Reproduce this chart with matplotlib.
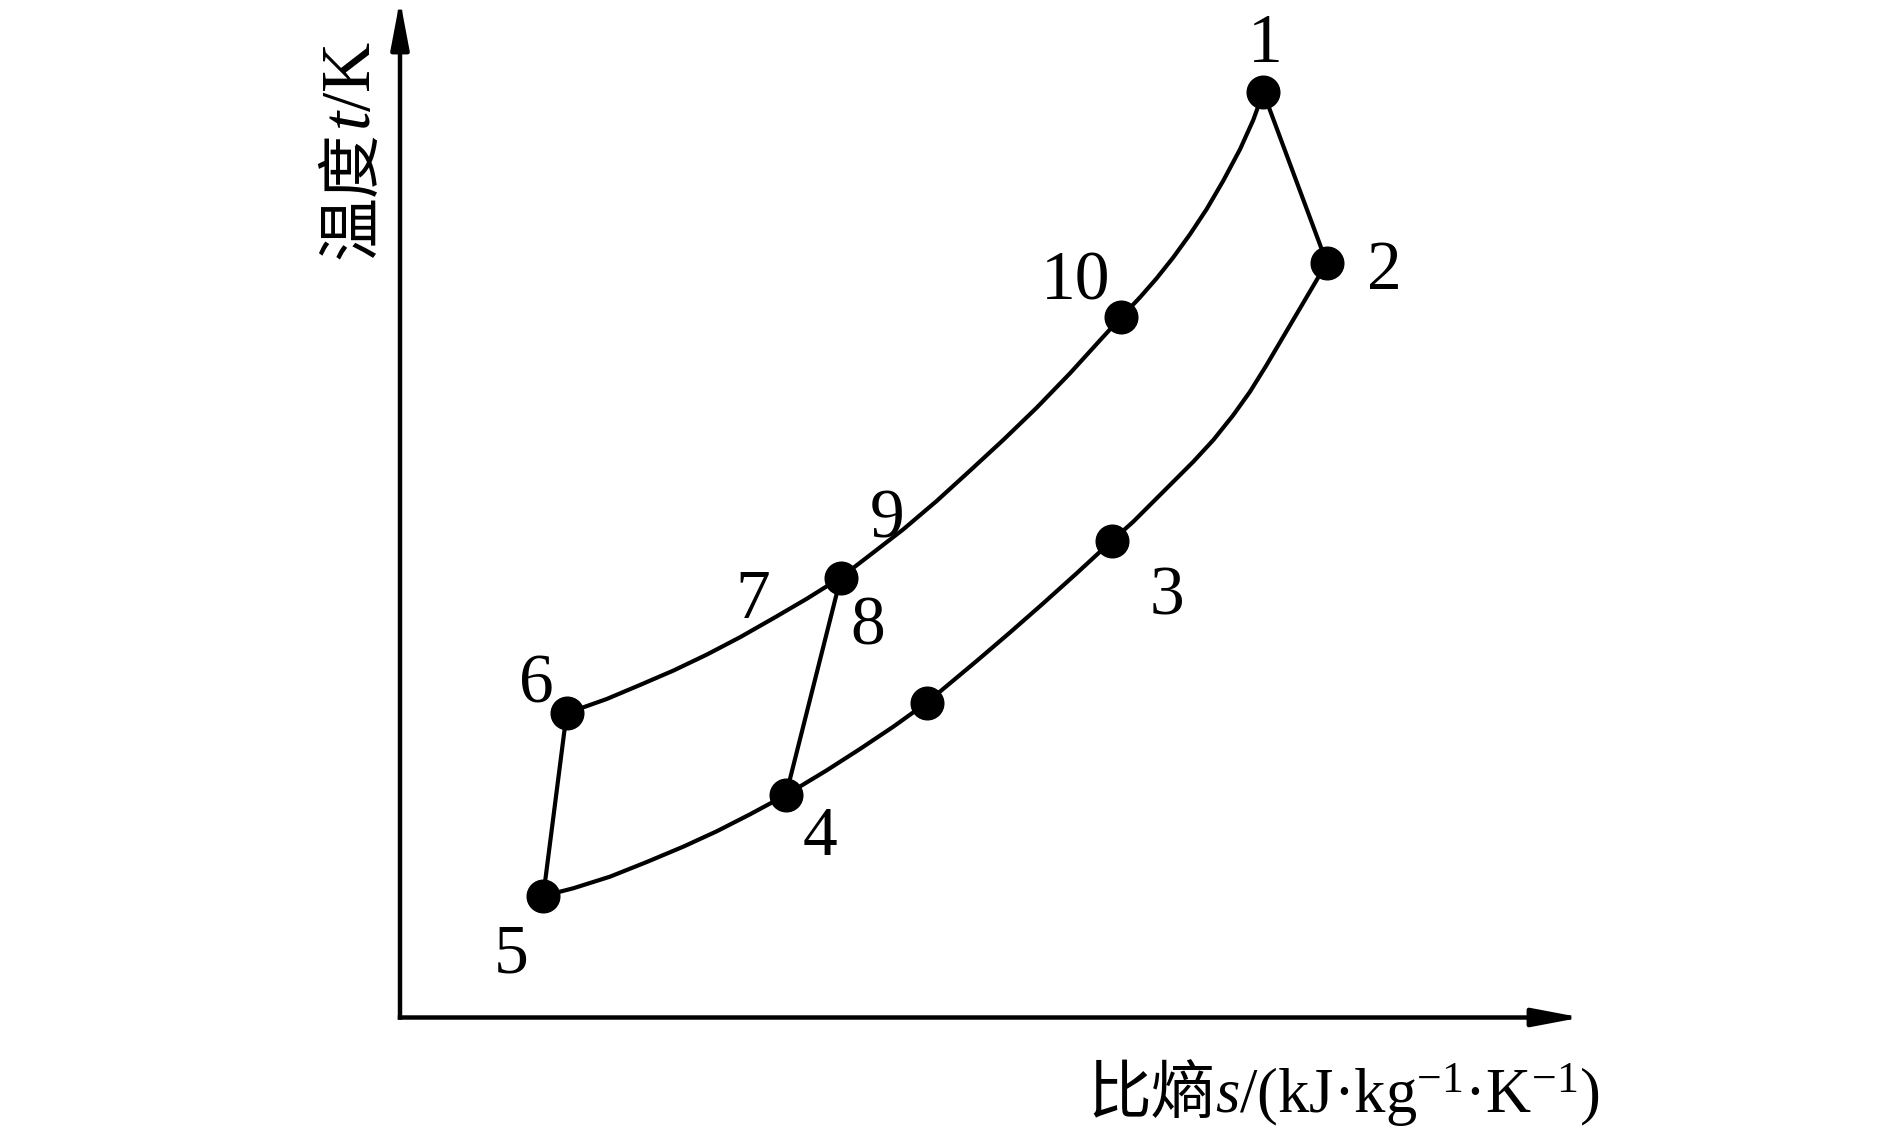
import matplotlib
matplotlib.use('Agg')
import matplotlib.pyplot as plt

plt.rcParams['mathtext.fontset'] = 'custom'
plt.rcParams['mathtext.rm'] = 'Liberation Serif'
plt.rcParams['mathtext.it'] = 'Liberation Serif:italic'
plt.rcParams['font.family'] = ['Liberation Serif', 'Noto Sans CJK SC']

# ---------------- data (specific entropy s, temperature T; arbitrary units) ----------------
# state points drawn as dots
node_names = ['1', '2', '10', '3', '3-4', '4', '5', '6', '8']
node_s = [73.10, 78.47, 61.05, 60.26, 44.60, 32.68, 12.13, 14.11, 37.32]
node_T = [90.93, 74.18, 68.80, 46.83, 30.94, 21.87, 11.94, 29.90, 43.24]

# upper curve 6 -> 7/8 -> 9 -> 10 -> 1
upper_s = [14.11, 17.50, 20.32, 23.14, 25.97, 28.79, 31.62, 34.44, 37.32, 39.80,
           42.62, 45.44, 48.26, 51.08, 53.91, 56.73, 59.55, 61.05, 62.66, 64.07,
           65.48, 66.89, 68.31, 69.71, 71.13, 72.25, 73.10]
upper_T = [29.90, 31.30, 32.68, 34.09, 35.66, 37.37, 39.24, 41.15, 43.24, 45.45,
           47.98, 50.76, 53.74, 56.76, 59.93, 63.31, 66.91, 68.80, 70.78, 72.65,
           74.71, 76.97, 79.46, 82.24, 85.33, 88.21, 90.93]

# lower curve 2 -> 3 -> 4 -> 5
lower_s = [78.47, 77.62, 76.21, 74.79, 73.38, 71.97, 70.56, 68.87, 67.17, 65.48,
           63.78, 62.09, 60.26, 57.30, 54.47, 51.65, 48.83, 44.60, 41.77, 38.95,
           36.13, 32.68, 29.64, 26.82, 23.99, 20.89, 17.78, 14.67, 12.13]
lower_T = [74.18, 72.48, 69.70, 66.91, 64.13, 61.50, 59.21, 56.76, 54.62, 52.66,
           50.69, 48.73, 46.83, 43.66, 40.71, 37.84, 35.04, 30.94, 28.58, 26.39,
           24.29, 21.87, 19.97, 18.30, 16.79, 15.28, 13.84, 12.70, 11.94]

# straight segments between states
segments = [('1', '2'), ('5', '6'), ('8', '4')]

# state-number labels (baseline positions)
label_text = ['1', '2', '10', '3', '4', '5', '6', '7', '8', '9']
label_s = [73.24, 83.39, 57.22, 64.92, 35.55, 9.38, 11.52, 29.89, 39.63, 41.24]
label_T = [93.86, 71.59, 70.57, 39.62, 15.94, 4.45, 30.98, 39.31, 36.66, 47.17]

xlabel_cn = '比熵'
xlabel_lat = r'$s$/(kJ·kg$^{-1}$·K$^{-1}$)'
ylabel_cn = '温度'
ylabel_lat = r'$t$/K'

# ---------------- figure ----------------
W, H = 1889, 1128
fig = plt.figure(figsize=(W / 100, H / 100), dpi=100)
ox, oy = 400, 1017.5      # axis origin (px)
tx, ty = 1581, 0          # arrow tips (px)
ax = fig.add_axes([ox / W, (H - oy) / H, (tx - ox) / W, (oy - ty) / H])
ax.set_xlim(0, 100)
ax.set_ylim(0, 100)
ax.axis('off')

lw = 3.0
line_kw = dict(color='black', lw=lw, solid_joinstyle='round', solid_capstyle='round',
               clip_on=False, zorder=2)
ax.plot(upper_s, upper_T, **line_kw)
ax.plot(lower_s, lower_T, **line_kw)
idx = {n: i for i, n in enumerate(node_names)}
for a, b in segments:
    ax.plot([node_s[idx[a]], node_s[idx[b]]], [node_T[idx[a]], node_T[idx[b]]], **line_kw)

ax.plot(node_s, node_T, 'o', color='black', ms=23.5, ls='none', clip_on=False, zorder=3)

for t, s, T in zip(label_text, label_s, label_T):
    ax.text(s, T, t, fontsize=50, family='Liberation Serif', ha='center', va='baseline',
            color='black')

# axes arrows
arrow_kw = dict(arrowstyle='-|>,head_length=2.9,head_width=0.55', color='black', lw=3.2,
                shrinkA=0, shrinkB=0, mutation_scale=10, capstyle='projecting')
ax.annotate('', xy=(1, 0), xytext=(0, 0), xycoords='axes fraction',
            textcoords='axes fraction', arrowprops=arrow_kw)
ax.annotate('', xy=(0, 1), xytext=(0, 0), xycoords='axes fraction',
            textcoords='axes fraction', arrowprops=arrow_kw)

# axis titles
xs, yb = 1215 / W, (H - 1113) / H
fig.text(xs, yb, xlabel_cn, fontsize=46, family='Noto Sans CJK SC', ha='right', va='baseline')
fig.text(xs, yb, xlabel_lat, fontsize=45, family='Liberation Serif', ha='left', va='baseline')

yx, ys = 370 / W, (H - 131) / H
fig.text(yx, ys, ylabel_cn, fontsize=46, family='Noto Sans CJK SC', rotation=90,
         rotation_mode='anchor', ha='right', va='baseline')
fig.text(yx, ys, ylabel_lat, fontsize=50, family='Liberation Serif', rotation=90,
         rotation_mode='anchor', ha='left', va='baseline')

fig.savefig('out.png', dpi=100, facecolor='white')
